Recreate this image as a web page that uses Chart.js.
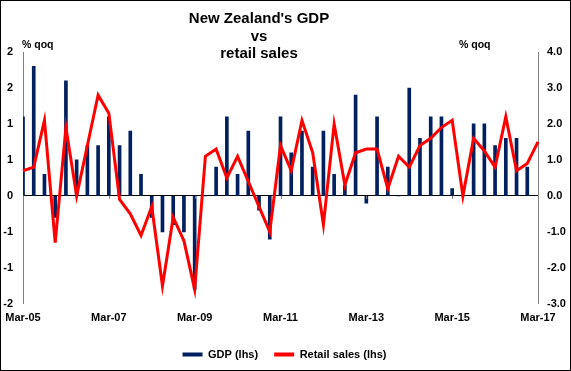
<!DOCTYPE html>
<html>
<head>
<meta charset="utf-8">
<script src="https://cdn.jsdelivr.net/npm/chart.js@4"></script>
<style>
  html, body { margin: 0; padding: 0; background: #fff; }
  #wrap { position: relative; width: 571px; height: 371px; box-sizing: border-box; border: 1px solid #000;
          font-family: Arial, "Liberation Sans", sans-serif; color: #000; }
  #title { position: absolute; left: 0; width: 516px; top: 8.4px; text-align: center;
           font-weight: bold; font-size: 15px; line-height: 17.5px; }
  .unit { position: absolute; top: 37px; font-weight: bold; font-size: 10.5px; white-space: pre; }
</style>
</head>
<body>
<div id="wrap">
  <canvas id="chart" width="569" height="369"></canvas>
  <div id="title">New Zealand's GDP<br>vs<br>retail sales</div>
  <div class="unit" style="left:21px">% qoq</div>
  <div class="unit" style="left:458px">% qoq</div>
</div>
<script>
const quarters = [
  "Mar-05","Jun-05","Sep-05","Dec-05","Mar-06","Jun-06","Sep-06","Dec-06",
  "Mar-07","Jun-07","Sep-07","Dec-07","Mar-08","Jun-08","Sep-08","Dec-08",
  "Mar-09","Jun-09","Sep-09","Dec-09","Mar-10","Jun-10","Sep-10","Dec-10",
  "Mar-11","Jun-11","Sep-11","Dec-11","Mar-12","Jun-12","Sep-12","Dec-12",
  "Mar-13","Jun-13","Sep-13","Dec-13","Mar-14","Jun-14","Sep-14","Dec-14",
  "Mar-15","Jun-15","Sep-15","Dec-15","Mar-16","Jun-16","Sep-16","Dec-16",
  "Mar-17"
];

// GDP % qoq, left axis
const gdp = [
  1.1, 1.8, 0.3, -0.3, 1.6, 0.5, 0.7, 0.7,
  1.1, 0.7, 0.9, 0.3, -0.3, -0.5, -0.4, -0.5,
  -1.3, 0.0, 0.4, 1.1, 0.3, 0.9, -0.2, -0.6,
  1.1, 0.6, 0.9, 0.4, 0.9, 0.3, 0.15, 1.4,
  -0.1, 1.1, 0.4, 0.0, 1.5, 0.8, 1.1, 1.1,
  0.1, 0.0, 1.0, 1.0, 0.7, 0.8, 0.8, 0.4,
  null
];

// retail sales % qoq, drawn against the right axis
const retail = [
  0.7, 0.8, 2.1, -1.3, 1.9, 0.0, 1.4, 2.8,
  2.3, -0.1, -0.5, -1.1, -0.3, -2.5, -0.6, -1.25,
  -2.6, 1.1, 1.3, 0.5, 1.1, 0.4, -0.3, -1.0,
  1.4, 0.7, 2.1, 1.2, -0.8, 2.0, 0.3, 1.2,
  1.3, 1.3, 0.2, 1.1, 0.8, 1.4, 1.6, 1.9,
  2.1, 0.0, 1.6, 1.25, 0.8, 2.2, 0.7, 0.9,
  1.5
];

const labelEvery = 8;
const tickFont = { family: "Arial, 'Liberation Sans', sans-serif", size: 11, weight: "bold" };

// small tick marks hanging under the zero line
const zeroTicks = {
  id: "zeroTicks",
  afterDatasetsDraw(chart) {
    const { ctx, scales } = chart;
    const y0 = scales.y.getPixelForValue(0);
    ctx.save();
    ctx.strokeStyle = "#808080";
    ctx.lineWidth = 1;
    for (let i = 0; i < quarters.length; i += labelEvery) {
      const x = Math.round(scales.x.getPixelForValue(i)) + 0.5;
      ctx.beginPath();
      ctx.moveTo(x, y0);
      ctx.lineTo(x, y0 + 3);
      ctx.stroke();
    }
    ctx.restore();
  }
};

new Chart(document.getElementById("chart"), {
  type: "bar",
  data: {
    labels: quarters,
    datasets: [
      {
        type: "bar",
        label: "GDP (lhs)",
        data: gdp,
        backgroundColor: "#002060",
        barThickness: 3,
        yAxisID: "y",
        order: 2
      },
      {
        type: "line",
        label: "Retail sales (lhs)",
        data: retail,
        borderColor: "#ff0000",
        backgroundColor: "#ff0000",
        borderWidth: 3,
        pointRadius: 0,
        tension: 0,
        yAxisID: "y1",
        order: 1
      }
    ]
  },
  options: {
    responsive: false,
    animation: false,
    layout: { padding: { left: 2, right: 4, top: 51, bottom: 0 } },
    plugins: {
      title: { display: false },
      tooltip: { enabled: false },
      legend: {
        position: "bottom",
        labels: {
          font: tickFont,
          color: "#000",
          boxWidth: 20,
          boxHeight: 4,
          padding: 16,
          sort: (a, b) => a.datasetIndex - b.datasetIndex,
          generateLabels: (chart) =>
            Chart.defaults.plugins.legend.labels.generateLabels(chart).map(l => ({ ...l, lineWidth: 0 }))
        }
      }
    },
    scales: {
      x: {
        offset: false,
        grid: { display: false, drawTicks: false },
        border: { display: false },
        ticks: {
          autoSkip: false,
          maxRotation: 0,
          padding: 8,
          font: tickFont,
          color: "#000",
          callback: (v, i) => (i % labelEvery === 0 ? quarters[i] : "")
        },
        afterFit: (s) => { s.paddingLeft = 0; s.paddingRight = 0; }
      },
      y: {
        position: "left",
        min: -1.5,
        max: 2,
        grid: {
          drawTicks: false,
          color: (c) => (c.tick && c.tick.value === 0 ? "#000" : "rgba(0,0,0,0)")
        },
        border: { display: true, color: "#808080" },
        ticks: {
          stepSize: 0.5,
          padding: 10,
          font: tickFont,
          color: "#000",
          callback: (v) => String(Math.sign(v) * Math.round(Math.abs(v)))
        },
        afterFit: (s) => { s.width = 20; }
      },
      y1: {
        position: "right",
        min: -3,
        max: 4,
        grid: { display: false, drawTicks: false },
        border: { display: true, color: "#808080" },
        ticks: {
          stepSize: 1,
          padding: 9,
          font: tickFont,
          color: "#000",
          callback: (v) => v.toFixed(1)
        },
        afterFit: (s) => { s.width = 28; }
      }
    }
  },
  plugins: [zeroTicks]
});
</script>
</body>
</html>
